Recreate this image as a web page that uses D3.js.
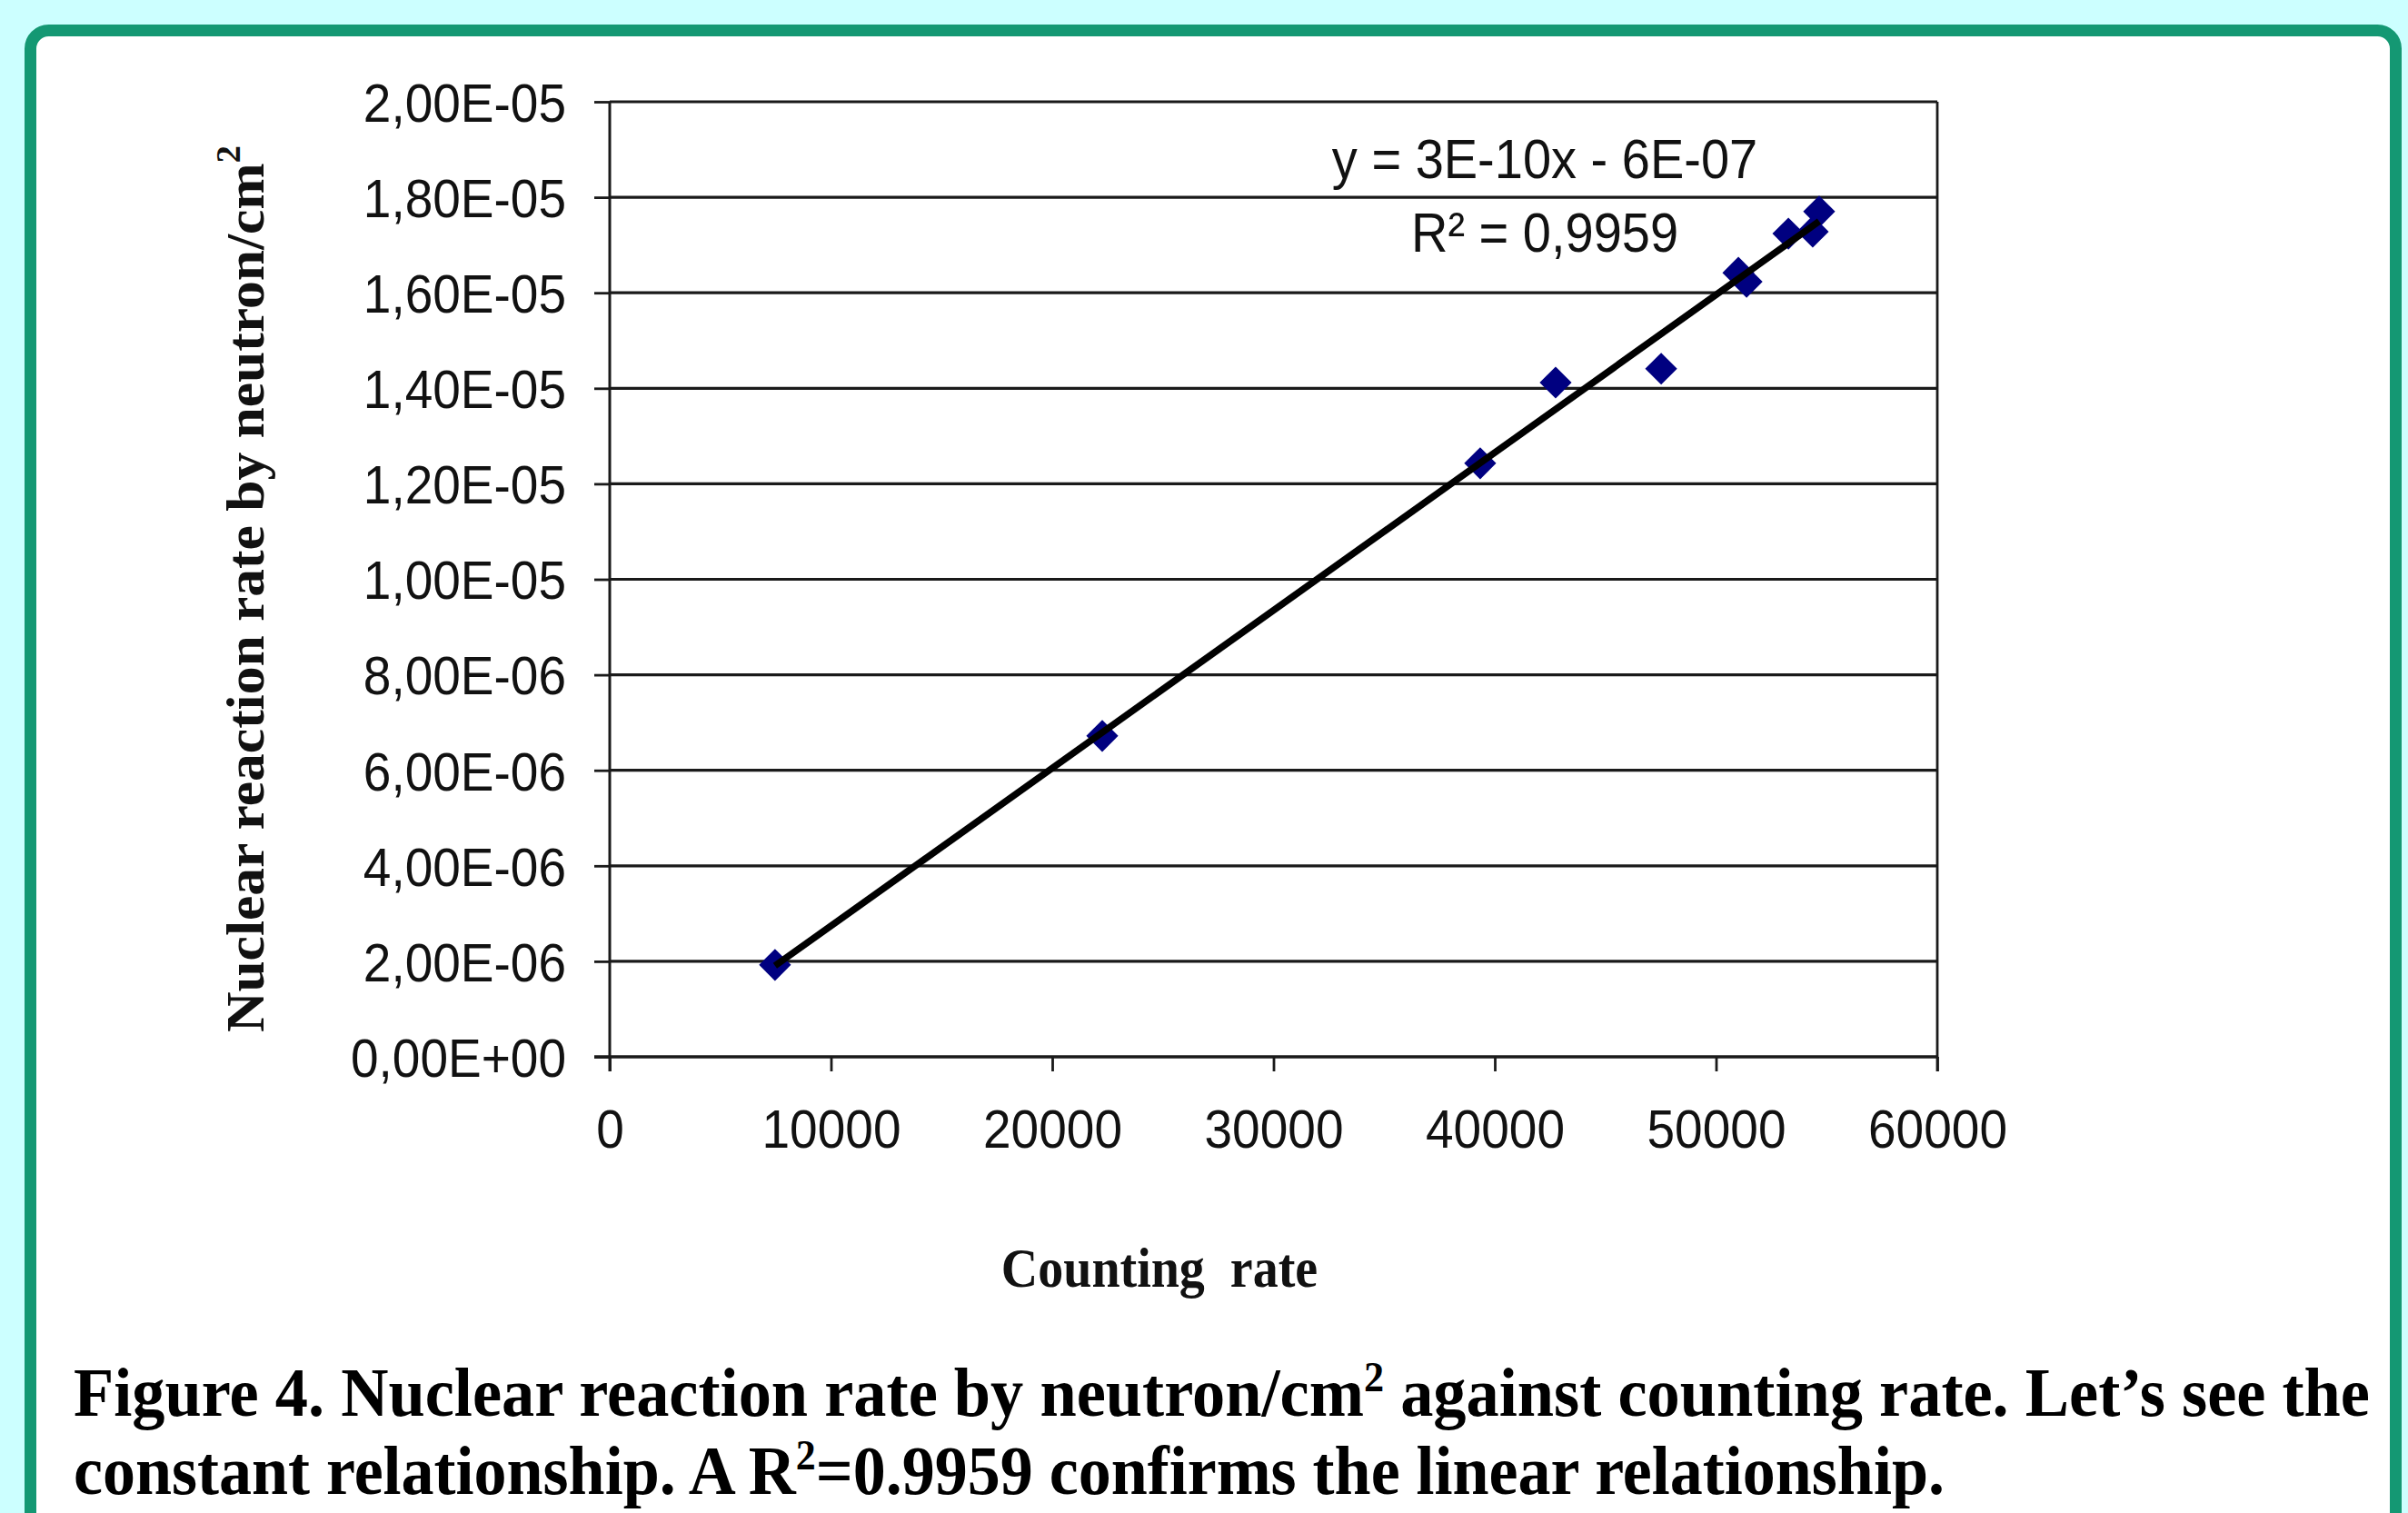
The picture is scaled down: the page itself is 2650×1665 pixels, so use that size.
<!DOCTYPE html>
<html>
<head>
<meta charset="utf-8">
<script src="https://cdn.jsdelivr.net/npm/d3@7/dist/d3.min.js"></script>
<style>
  html, body { margin: 0; padding: 0; background: #ccffff; }
  svg { display: block; }
  .tick text { font-family: "Liberation Sans", Arial, sans-serif; fill: #111; }
</style>
</head>
<body>
<svg id="chart" width="2650" height="1665"></svg>
<script>
// counting rate (x) and nuclear reaction rate by neutron/cm2 (y)
var countRate = [7470, 22260, 39340, 42750, 47520, 51010, 51380, 53270, 54370, 54660];
var reactionRate = [1.925e-6, 6.72e-6, 12.43e-6, 14.12e-6, 14.41e-6, 16.42e-6, 16.23e-6, 17.24e-6, 17.28e-6, 17.70e-6];

var xTicks = [0, 10000, 20000, 30000, 40000, 50000, 60000];
var yTicks = [0, 2e-6, 4e-6, 6e-6, 8e-6, 1e-5, 1.2e-5, 1.4e-5, 1.6e-5, 1.8e-5, 2e-5];
var yTickLabels = ["0,00E+00", "2,00E-06", "4,00E-06", "6,00E-06", "8,00E-06", "1,00E-05",
  "1,20E-05", "1,40E-05", "1,60E-05", "1,80E-05", "2,00E-05"];
var equationLines = ["y = 3E-10x - 6E-07", "R\u00b2 = 0,9959"];

var svg = d3.select("#chart");

// rounded green frame around the white card
svg.append("rect")
  .attr("x", 33.5).attr("y", 33.5)
  .attr("width", 2603).attr("height", 1700)
  .attr("rx", 20).attr("ry", 20)
  .attr("fill", "#fff")
  .attr("stroke", "#149873")
  .attr("stroke-width", 13);

var x = d3.scaleLinear().domain([0, 60000]).range([671, 2132]);
var y = d3.scaleLinear().domain([0, 2e-5]).range([1163, 112]);

// horizontal grid lines
svg.append("g")
  .selectAll("line")
  .data(yTicks.slice(1))
  .enter()
  .append("line")
    .attr("x1", x(0)).attr("x2", x(60000))
    .attr("y1", function (d) { return y(d); })
    .attr("y2", function (d) { return y(d); })
    .attr("stroke", "#1a1a1a")
    .attr("stroke-width", 3.2);

// right border of plot area
svg.append("line")
  .attr("x1", x(60000)).attr("x2", x(60000))
  .attr("y1", y(2e-5)).attr("y2", y(0) + 16)
  .attr("stroke", "#1a1a1a").attr("stroke-width", 2.8);

// y axis
var yAxis = svg.append("g")
  .attr("transform", "translate(" + x(0) + ",0)")
  .call(d3.axisLeft(y).tickValues(yTicks).tickSize(17).tickSizeOuter(0)
    .tickFormat(function (d, i) { return yTickLabels[i]; }));
yAxis.select(".domain").remove();
yAxis.selectAll(".tick line").attr("stroke", "#1a1a1a").attr("stroke-width", 2.8);
yAxis.selectAll(".tick text")
  .attr("x", null).attr("dy", "0.36em")
  .attr("transform", "translate(-48,0) scale(1,1.08)")
  .attr("font-size", 55);

// x axis
var xAxis = svg.append("g")
  .attr("transform", "translate(0," + y(0) + ")")
  .call(d3.axisBottom(x).tickValues(xTicks).tickSize(16).tickSizeOuter(0)
    .tickFormat(d3.format("d")));
xAxis.select(".domain").remove();
xAxis.selectAll(".tick line").attr("stroke", "#1a1a1a").attr("stroke-width", 2.8);
xAxis.selectAll(".tick text")
  .attr("y", null).attr("dy", null)
  .attr("transform", "translate(0,100) scale(1,1.08)")
  .attr("font-size", 55);

// axis lines
svg.append("line")
  .attr("x1", x(0)).attr("x2", x(0))
  .attr("y1", y(2e-5)).attr("y2", y(0) + 16)
  .attr("stroke", "#1a1a1a").attr("stroke-width", 3);
svg.append("line")
  .attr("x1", x(0) - 17).attr("x2", x(60000))
  .attr("y1", y(0)).attr("y2", y(0))
  .attr("stroke", "#1a1a1a").attr("stroke-width", 3.5);

// linear trend line (least squares over the points)
var points = countRate.map(function (v, i) { return [v, reactionRate[i]]; });
var mx = d3.mean(countRate), my = d3.mean(reactionRate);
var sxy = d3.sum(points, function (p) { return (p[0] - mx) * (p[1] - my); });
var sxx = d3.sum(points, function (p) { return (p[0] - mx) * (p[0] - mx); });
var slope = sxy / sxx, intercept = my - slope * mx;
var xExt = d3.extent(countRate);

// diamond markers
svg.append("g")
  .selectAll("path")
  .data(points)
  .enter()
  .append("path")
    .attr("d", d3.symbol().type(d3.symbolSquare).size(620))
    .attr("transform", function (d) {
      return "translate(" + x(d[0]) + "," + y(d[1]) + ") rotate(45)";
    })
    .attr("fill", "#000080");

svg.append("path")
  .datum(xExt)
  .attr("d", d3.line()
    .x(function (d) { return x(d); })
    .y(function (d) { return y(slope * d + intercept); }))
  .attr("stroke", "#000")
  .attr("stroke-width", 7.5)
  .attr("fill", "none");

// equation label
svg.append("g")
  .selectAll("text")
  .data(equationLines)
  .enter()
  .append("text")
    .attr("transform", function (d, i) {
      return "translate(1700," + (196 + i * 81) + ") scale(1,1.08)";
    })
    .attr("text-anchor", "middle")
    .attr("font-family", "Liberation Sans, Arial, sans-serif")
    .attr("font-size", 56)
    .attr("fill", "#111")
    .text(function (d) { return d; });

// y axis title
var yTitle = svg.append("text")
  .attr("transform", "translate(290,648) rotate(-90)")
  .attr("text-anchor", "middle")
  .attr("font-family", "Liberation Serif, Times New Roman, serif")
  .attr("font-weight", "bold")
  .attr("font-size", 60)
  .attr("textLength", 976)
  .attr("lengthAdjust", "spacingAndGlyphs")
  .attr("fill", "#111");
yTitle.append("tspan").text("Nuclear reaction rate by neutron/cm");
yTitle.append("tspan").attr("font-size", 38).attr("dy", -26).text("2");

// x axis title
svg.append("text")
  .attr("transform", "translate(1276,1416) scale(1,1.1)")
  .attr("text-anchor", "middle")
  .attr("font-family", "Liberation Serif, Times New Roman, serif")
  .attr("font-weight", "bold")
  .attr("font-size", 56)
  .attr("fill", "#111")
  .style("white-space", "pre")
  .text("Counting  rate");

// caption
var cap1 = svg.append("text")
  .attr("transform", "translate(81,1558) scale(1,1.05)")
  .attr("font-family", "Liberation Serif, Times New Roman, serif")
  .attr("font-weight", "bold")
  .attr("font-size", 72)
  .attr("textLength", 2527)
  .attr("lengthAdjust", "spacingAndGlyphs")
  .attr("fill", "#000");
cap1.append("tspan").text("Figure 4. Nuclear reaction rate by neutron/cm");
cap1.append("tspan").attr("font-size", 44).attr("dy", -26).text("2");
cap1.append("tspan").attr("dy", 26).text(" against counting rate. Let\u2019s see the");

var cap2 = svg.append("text")
  .attr("transform", "translate(81,1644) scale(1,1.05)")
  .attr("font-family", "Liberation Serif, Times New Roman, serif")
  .attr("font-weight", "bold")
  .attr("font-size", 72)
  .attr("fill", "#000");
cap2.append("tspan").text("constant relationship. A R");
cap2.append("tspan").attr("font-size", 44).attr("dy", -26).text("2");
cap2.append("tspan").attr("dy", 26).text("=0.9959 confirms the linear relationship.");
</script>
</body>
</html>
